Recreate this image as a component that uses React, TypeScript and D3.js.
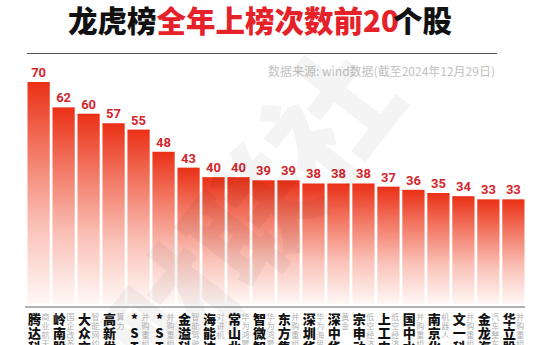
import React from "react";
import * as d3 from "d3";

const names = ["腾达科技", "岭南股份", "大众交通", "高新发展", "*ST宇顺", "*ST中润", "金溢科技", "海能达", "常山北明", "智微智能", "东方集团", "深圳华强", "深中华A", "宗申动力", "上工申贝", "国中水务", "南京化纤", "文一科技", "金龙汽车", "华立股份"];
const themes = ["商业航天", "国企改革", "智能网约", "算力", "并购重组", "并购重组", "智能驾驶", "对讲机", "华为鸿蒙", "华为鸿蒙", "并购重组", "华为海思", "黄金", "低空经济", "低空经济", "并购重组", "机器人", "并购重组", "汽车整车", "并购重组"];
const counts = [70, 62, 60, 57, 55, 48, 43, 40, 40, 39, 39, 38, 38, 38, 37, 36, 35, 34, 33, 33];
const titleParts = ["龙虎榜", "全年上榜次数前20", "个股"];

const W = 553;
const H = 345;
const CJK = "'Noto Sans CJK SC', 'Noto Sans', sans-serif";

export default function App() {
  const x = d3
    .scaleBand<number>()
    .domain(d3.range(counts.length))
    .range([27, 525])
    .paddingInner(0.11)
    .paddingOuter(0.02);
  const baseline = 304;
  const y = d3.scaleLinear().domain([0, 70]).range([baseline, 82]);

  const TS = 29.5;
  const titleX = [68, 68 + 3 * TS, 68 + 3 * TS + 7 * TS + 30];
  const titleFill = ["#111", "#e5212a", "#111"];

  return (
    <svg
      width={W}
      height={H}
      style={{ position: "absolute", left: 0, top: 0, background: "#fff" }}
    >
      <defs>
        <linearGradient id="barGrad" x1="0" y1="0" x2="0" y2="1">
          <stop offset="0" stopColor="#ea3016" />
          <stop offset="0.3" stopColor="#f27662" />
          <stop offset="0.65" stopColor="#fac2b8" />
          <stop offset="1" stopColor="#fff8f6" />
        </linearGradient>
      </defs>

      {/* title */}
      {titleParts.map((t, i) => (
        <text
          key={"t" + i}
          x={titleX[i]}
          y={32}
          fontFamily={CJK}
          fontWeight={900}
          fontSize={TS}
          fill={titleFill[i]}
        >
          {t}
        </text>
      ))}
      <line x1={27} x2={497} y1={53.5} y2={53.5} stroke="#555" strokeWidth={1} />

      <text
        x={495}
        y={76}
        textAnchor="end"
        fontFamily={CJK}
        fontSize={12}
        fill="#c2c2c2"
      >
        数据来源: wind数据(截至2024年12月29日)
      </text>

      {/* bars */}
      {counts.map((v, i) => (
        <g key={i}>
          <rect
            x={x(i)}
            y={y(v)}
            width={x.bandwidth()}
            height={baseline - y(v)}
            fill="url(#barGrad)"
          />
          <text
            x={(x(i) as number) + x.bandwidth() / 2}
            y={y(v) - 5}
            textAnchor="middle"
            fontFamily="Roboto, sans-serif"
            fontWeight={700}
            fontSize={13}
            fill="#d3262d"
          >
            {v}
          </text>
        </g>
      ))}

      {/* watermark */}
      <text
        x={290}
        y={245}
        transform="rotate(-52 290 245)"
        textAnchor="middle"
        fontFamily={CJK}
        fontWeight={900}
        fontSize={125}
        fill="#000"
        opacity={0.04}
      >
        财联社
      </text>

      <line x1={25} x2={525} y1={307} y2={307} stroke="#666" strokeWidth={1.2} />

      {/* vertical category labels */}
      {names.map((n, i) => {
        const left = x(i) as number;
        const chars = Array.from(n);
        const sub = Array.from(themes[i]);
        return (
          <g key={"l" + i}>
            {chars.map((c, j) => (
              <text
                key={j}
                x={left + 7}
                y={324 + j * 14}
                textAnchor="middle"
                fontFamily={CJK}
                fontWeight={900}
                fontSize={13}
                fill="#111"
              >
                {c}
              </text>
            ))}
            {sub.map((c, j) => (
              <text
                key={"s" + j}
                x={left + 18}
                y={320 + j * 9}
                textAnchor="middle"
                fontFamily={CJK}
                fontSize={8}
                fill="#b0b0b0"
              >
                {c}
              </text>
            ))}
          </g>
        );
      })}
    </svg>
  );
}
